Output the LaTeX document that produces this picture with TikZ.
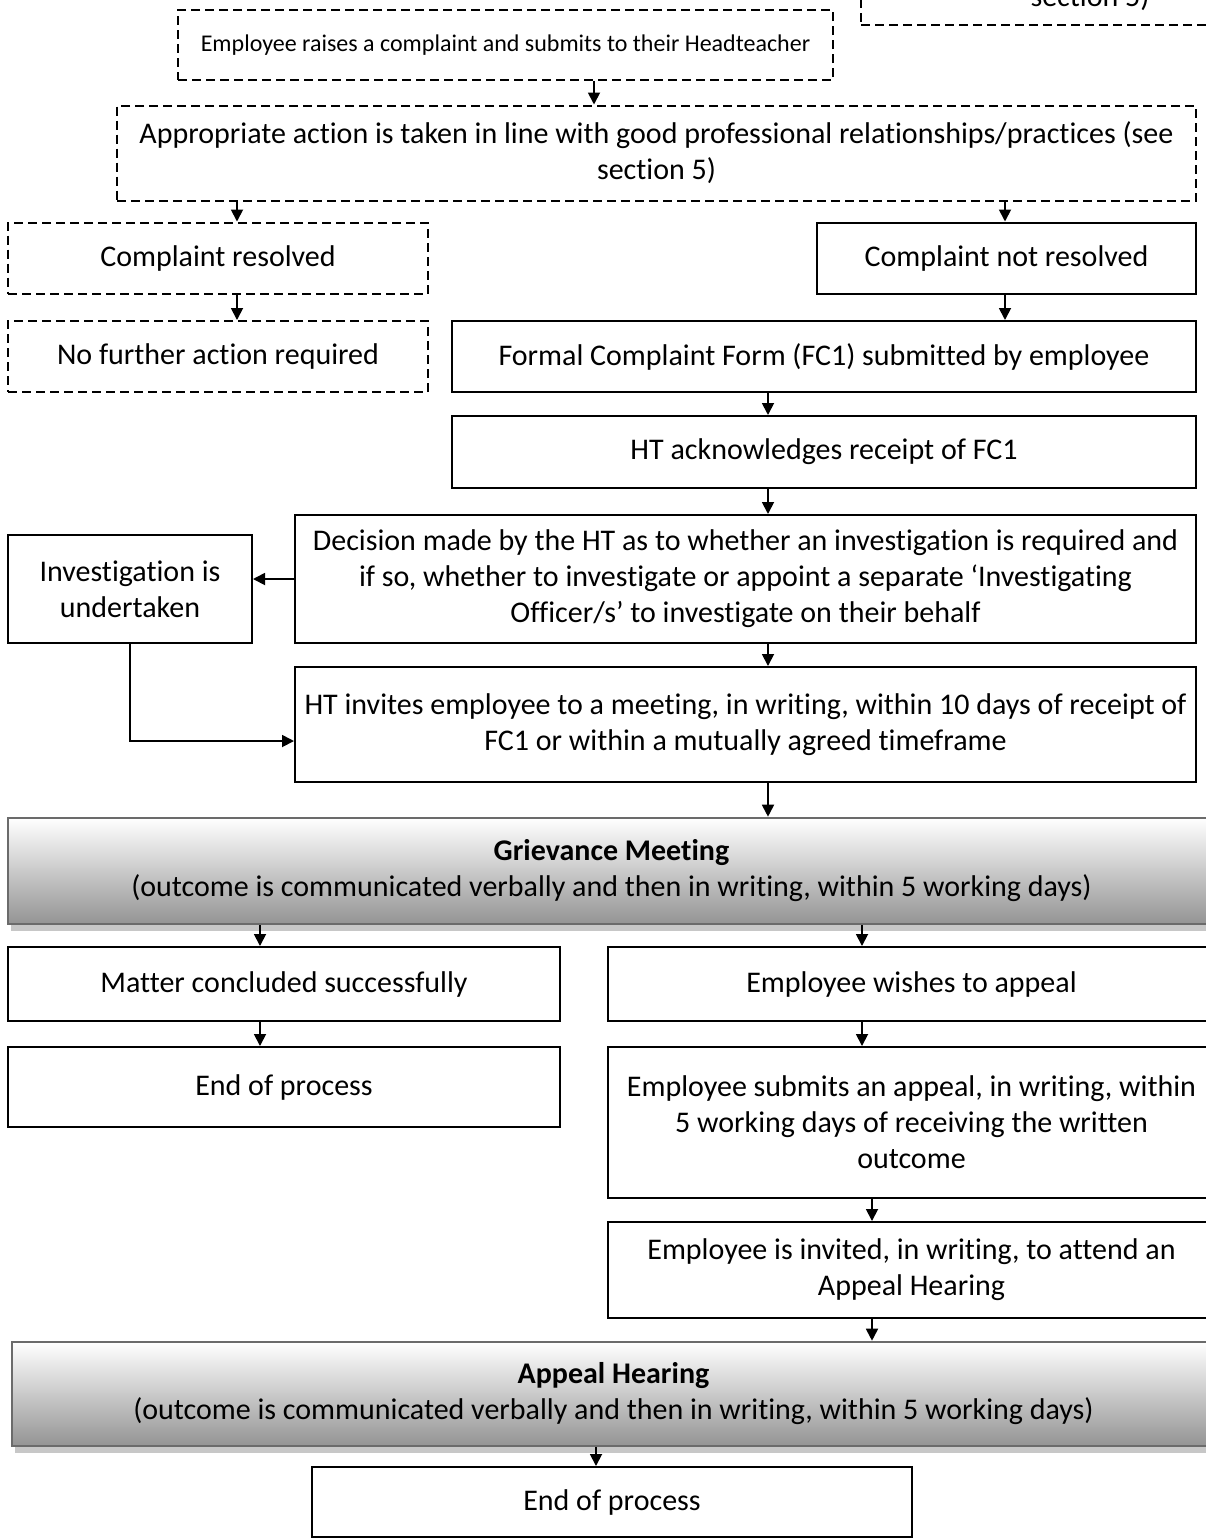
\documentclass[tikz,border=0pt]{standalone}
\usepackage{fontspec}
\setmainfont{Carlito}[Ligatures=NoCommon]
\usetikzlibrary{arrows.meta,shadows}

\tikzset{
  box/.style={draw, line width=1pt, rectangle, align=center, inner sep=0pt,
              font=\fontsize{15}{18}\selectfont},
  dashbox/.style={box, dash pattern=on 4.5pt off 2.5pt},
  greybox/.style={box, draw=black!58, line width=1.3pt, top color=white, bottom color=black!42,
                  drop shadow={shadow xshift=1.5pt, shadow yshift=-3.5pt, fill=black!22, opacity=1}},
  arr/.style={-{Triangle[length=6pt,width=6pt]}, line width=0.9pt},
}

\begin{document}
\begin{tikzpicture}[x=0.5pt, y=-0.5pt]
  \useasboundingbox (0,0) rectangle (1206,1539);
  \clip (0,0) rectangle (1206,1539);

  % columns used by the connectors
  \coordinate (colA) at (594,0);
  \coordinate (colL) at (237,0);
  \coordinate (colR) at (1005,0);
  \coordinate (colM) at (768,0);
  \coordinate (colG) at (260,0);
  \coordinate (colW) at (862,0);
  \coordinate (colS) at (872,0);
  \coordinate (colE) at (596,0);
  \coordinate (rowI) at (0,741);

  % informal stage
  \node (prev) [dashbox, minimum width=200pt, minimum height=48pt, anchor=south west] at (860,26) {};
  \node (prevtxt) [font=\fontsize{15}{18}\selectfont, inner sep=0pt] at (1090,-2) {section 5)};
  \node (raise) [dashbox, minimum width=327.5pt, minimum height=35pt, font=\fontsize{12}{14}\selectfont]
        at (505.5,45) {Employee raises a complaint and submits to their Headteacher};
  \node (action) [dashbox, minimum width=539.5pt, minimum height=47.5pt] at (656.5,153)
        {Appropriate action is taken in line with good professional relationships/practices (see\\section 5)};
  \node (resolved) [dashbox, minimum width=210pt, minimum height=35.5pt] at (218,258) {Complaint resolved};
  \node (notres) [box, minimum width=189.5pt, minimum height=35.5pt] at (1006.5,258) {Complaint not resolved};
  \node (nofurther) [dashbox, minimum width=210pt, minimum height=35.5pt] at (218,356.5) {No further action required};

  % formal stage
  \node (form) [box, minimum width=372pt, minimum height=35.5pt] at (824,356.5)
        {Formal Complaint Form (FC1) submitted by employee};
  \node (ack) [box, minimum width=372pt, minimum height=36pt] at (824,452) {HT acknowledges receipt of FC1};
  \node (decision) [box, minimum width=450.5pt, minimum height=64pt] at (745.5,579)
        {Decision made by the HT as to whether an investigation is required and\\
         if so, whether to investigate or appoint a separate ‘Investigating\\
         Officer/s’ to investigate on their behalf};
  \node (invest) [box, minimum width=122pt, minimum height=54pt] at (130,589) {Investigation is\\undertaken};
  \node (invite) [box, minimum width=450.5pt, minimum height=57.5pt] at (745.5,724.5)
        {HT invites employee to a meeting, in writing, within 10 days of receipt of\\
         FC1 or within a mutually agreed timeframe};
  \node (meeting) [greybox, minimum width=603.5pt, minimum height=53pt] at (611.5,871)
        {\textbf{Grievance Meeting}\\(outcome is communicated verbally and then in writing, within 5 working days)};

  % outcomes
  \node (concluded) [box, minimum width=276pt, minimum height=37pt] at (284,984) {Matter concluded successfully};
  \node (wishes) [box, minimum width=303.5pt, minimum height=37pt] at (911.5,984) {Employee wishes to appeal};
  \node (end1) [box, minimum width=276pt, minimum height=40pt] at (284,1087) {End of process};
  \node (submits) [box, minimum width=303.5pt, minimum height=75.5pt] at (911.5,1122.5)
        {Employee submits an appeal, in writing, within\\5 working days of receiving the written\\outcome};
  \node (invited) [box, minimum width=303.5pt, minimum height=48pt] at (911.5,1270)
        {Employee is invited, in writing, to attend an\\Appeal Hearing};
  \node (hearing) [greybox, minimum width=601.5pt, minimum height=52pt] at (613.5,1394)
        {\textbf{Appeal Hearing}\\(outcome is communicated verbally and then in writing, within 5 working days)};
  \node (end2) [box, minimum width=300pt, minimum height=35pt] at (612,1502) {End of process};

  % connectors
  \draw[arr] (raise.south -| colA) -- (action.north -| colA);
  \draw[arr] (action.south -| colL) -- (resolved.north -| colL);
  \draw[arr] (action.south -| colR) -- (notres.north -| colR);
  \draw[arr] (resolved.south -| colL) -- (nofurther.north -| colL);
  \draw[arr] (notres.south -| colR) -- (form.north -| colR);
  \draw[arr] (form.south -| colM) -- (ack.north -| colM);
  \draw[arr] (ack.south -| colM) -- (decision.north -| colM);
  \draw[arr] (decision.west) -- (decision.west -| invest.east);
  \draw[arr] (decision.south -| colM) -- (invite.north -| colM);
  \draw[arr] (invest.south) |- (invite.west |- rowI);
  \draw[arr] (invite.south -| colM) -- (meeting.north -| colM);
  \draw[arr] (meeting.south -| colG) -- (concluded.north -| colG);
  \draw[arr] (meeting.south -| colW) -- (wishes.north -| colW);
  \draw[arr] (concluded.south -| colG) -- (end1.north -| colG);
  \draw[arr] (wishes.south -| colW) -- (submits.north -| colW);
  \draw[arr] (submits.south -| colS) -- (invited.north -| colS);
  \draw[arr] (invited.south -| colS) -- (hearing.north -| colS);
  \draw[arr] (hearing.south -| colE) -- (end2.north -| colE);
\end{tikzpicture}
\end{document}
